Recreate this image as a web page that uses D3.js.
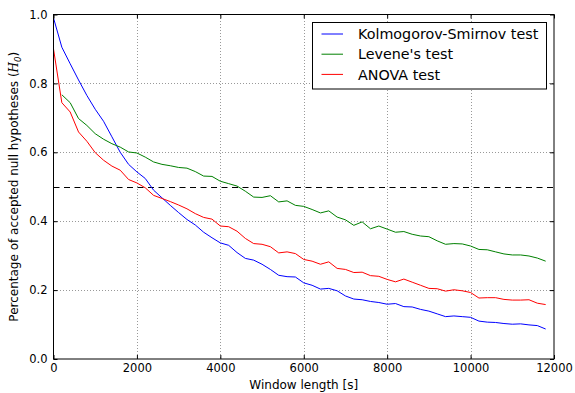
<!DOCTYPE html>
<html>
<head>
<meta charset="utf-8">
<script src="https://cdn.jsdelivr.net/npm/d3@7"></script>
<style>
  html, body { margin: 0; padding: 0; background: #fff; }
  svg { display: block; font-family: "DejaVu Sans", sans-serif; }
</style>
</head>
<body>
<svg id="chart" width="575" height="393"></svg>
<script>
// Window lengths in seconds (one sample every 200 s)
const windowLengths = d3.range(0, 12000, 200);

// Share of accepted null hypotheses per test
const ksValues = [
  0.99, 0.905, 0.857, 0.81, 0.765, 0.725, 0.69, 0.645, 0.60, 0.565,
  0.543, 0.524, 0.49, 0.468, 0.446, 0.425, 0.405, 0.389, 0.368, 0.352,
  0.337, 0.33, 0.309, 0.292, 0.287, 0.275, 0.26, 0.243, 0.239, 0.238,
  0.221, 0.214, 0.203, 0.205, 0.198, 0.183, 0.174, 0.172, 0.167, 0.164,
  0.159, 0.161, 0.152, 0.151, 0.144, 0.139, 0.131, 0.123, 0.125, 0.123,
  0.121, 0.110, 0.107, 0.106, 0.103, 0.101, 0.102, 0.099, 0.097, 0.087
];
const leveneValues = [
  null, 0.767, 0.744, 0.698, 0.678, 0.654, 0.638, 0.625, 0.615, 0.601,
  0.598, 0.586, 0.572, 0.565, 0.561, 0.556, 0.554, 0.544, 0.531, 0.530,
  0.516, 0.509, 0.502, 0.487, 0.470, 0.469, 0.474, 0.456, 0.459, 0.446,
  0.443, 0.434, 0.424, 0.430, 0.412, 0.404, 0.388, 0.398, 0.378, 0.386,
  0.377, 0.368, 0.370, 0.362, 0.357, 0.355, 0.343, 0.333, 0.335, 0.334,
  0.328, 0.318, 0.317, 0.311, 0.305, 0.302, 0.302, 0.299, 0.293, 0.284
];
const anovaValues = [
  0.90, 0.744, 0.717, 0.659, 0.632, 0.599, 0.577, 0.56, 0.548, 0.521,
  0.511, 0.497, 0.475, 0.466, 0.457, 0.447, 0.436, 0.422, 0.411, 0.406,
  0.386, 0.384, 0.371, 0.350, 0.335, 0.333, 0.326, 0.308, 0.311, 0.306,
  0.289, 0.284, 0.275, 0.282, 0.263, 0.260, 0.251, 0.252, 0.242, 0.240,
  0.231, 0.224, 0.232, 0.223, 0.214, 0.205, 0.204, 0.197, 0.201, 0.198,
  0.193, 0.177, 0.178, 0.178, 0.173, 0.171, 0.171, 0.172, 0.162, 0.158
];

const seriesNames = ["Kolmogorov-Smirnov test", "Levene's test", "ANOVA test"];
const seriesColors = ["#0000ff", "#008000", "#ff0000"];
const thresholdValue = 0.5;

const xTicks = [0, 2000, 4000, 6000, 8000, 10000, 12000];
const yTicks = [0.0, 0.2, 0.4, 0.6, 0.8, 1.0];

const svg = d3.select("#chart");
const plot = { left: 53.5, right: 554, top: 14.5, bottom: 359 };

const x = d3.scaleLinear().domain([0, 12000]).range([plot.left, plot.right]);
const y = d3.scaleLinear().domain([0, 1]).range([plot.bottom, plot.top]);

// Dotted grid
const grid = svg.append("g").attr("stroke", "#999").attr("stroke-width", 1)
  .attr("stroke-dasharray", "1,2").attr("shape-rendering", "crispEdges");
grid.selectAll("line.gx").data(xTicks.slice(1, -1)).join("line")
  .attr("x1", d => Math.round(x(d)) + 0.5).attr("x2", d => Math.round(x(d)) + 0.5)
  .attr("y1", plot.top).attr("y2", plot.bottom);
grid.selectAll("line.gy").data(yTicks.slice(1, -1)).join("line")
  .attr("x1", plot.left).attr("x2", plot.right)
  .attr("y1", d => Math.round(y(d)) + 0.5).attr("y2", d => Math.round(y(d)) + 0.5);

// 50 % reference line
svg.append("line")
  .attr("x1", x(0)).attr("x2", x(12000))
  .attr("y1", Math.round(y(thresholdValue)) + 0.5).attr("y2", Math.round(y(thresholdValue)) + 0.5)
  .attr("stroke", "#000").attr("stroke-width", 1).attr("stroke-dasharray", "6,4.5");

// Series lines
const allSeries = [ksValues, leveneValues, anovaValues];
const line = d3.line()
  .defined(d => d[1] !== null)
  .x(d => x(d[0]))
  .y(d => y(d[1]));
allSeries.forEach((vals, i) => {
  svg.append("path")
    .datum(windowLengths.map((w, j) => [w, vals[j]]))
    .attr("d", line)
    .attr("fill", "none")
    .attr("stroke", seriesColors[i])
    .attr("stroke-width", 1);
});

// Axes with inward ticks on all four sides
function styleAxis(g) {
  g.select(".domain").remove();
  g.selectAll(".tick line").attr("stroke", "#000");
  g.selectAll(".tick text").attr("fill", "#000").attr("font-size", "11.5px")
    .attr("font-family", "DejaVu Sans, sans-serif");
}
svg.append("g").attr("transform", `translate(0,${plot.bottom})`)
  .call(d3.axisBottom(x).tickValues(xTicks).tickFormat(d3.format("d")).tickSize(-4).tickPadding(5))
  .call(styleAxis);
svg.append("g").attr("transform", `translate(0,${plot.top})`)
  .call(d3.axisTop(x).tickValues(xTicks).tickFormat("").tickSize(-4))
  .call(styleAxis);
svg.append("g").attr("transform", `translate(${plot.left},0)`)
  .call(d3.axisLeft(y).tickValues(yTicks).tickFormat(d3.format(".1f")).tickSize(-4).tickPadding(6))
  .call(styleAxis);
svg.append("g").attr("transform", `translate(${plot.right},0)`)
  .call(d3.axisRight(y).tickValues(yTicks).tickFormat("").tickSize(-4))
  .call(styleAxis);

// Frame
svg.append("rect")
  .attr("x", plot.left).attr("y", plot.top)
  .attr("width", plot.right - plot.left).attr("height", plot.bottom - plot.top)
  .attr("fill", "none").attr("stroke", "#000").attr("stroke-width", 1);

// Axis titles
svg.append("text")
  .attr("x", (plot.left + plot.right) / 2).attr("y", 389)
  .attr("text-anchor", "middle").attr("font-size", "12px")
  .text("Window length [s]");

const yTitle = svg.append("text")
  .attr("transform", `translate(18,${(plot.top + plot.bottom) / 2}) rotate(-90)`)
  .attr("text-anchor", "middle").attr("font-size", "12px");
yTitle.append("tspan").text("Percentage of accepted null hypotheses (");
yTitle.append("tspan").attr("font-style", "italic").attr("font-family", "DejaVu Serif, serif").text("H");
yTitle.append("tspan").attr("font-size", "8.5px").attr("font-style", "italic")
  .attr("dy", "3").text("0");
yTitle.append("tspan").attr("dy", "-3").text(")");

// Legend
const legend = svg.append("g");
legend.append("rect")
  .attr("x", 312.5).attr("y", 22.5).attr("width", 234).attr("height", 66.5)
  .attr("fill", "#fff").attr("stroke", "#000").attr("stroke-width", 1);
seriesNames.forEach((name, i) => {
  const ly = 34 + i * 20.2;
  legend.append("line")
    .attr("x1", 321.5).attr("x2", 343).attr("y1", ly).attr("y2", ly)
    .attr("stroke", seriesColors[i]).attr("stroke-width", 1);
  legend.append("text")
    .attr("x", 358).attr("y", ly).attr("dy", "0.36em")
    .attr("font-size", "14.3px").text(name);
});
</script>
</body>
</html>
